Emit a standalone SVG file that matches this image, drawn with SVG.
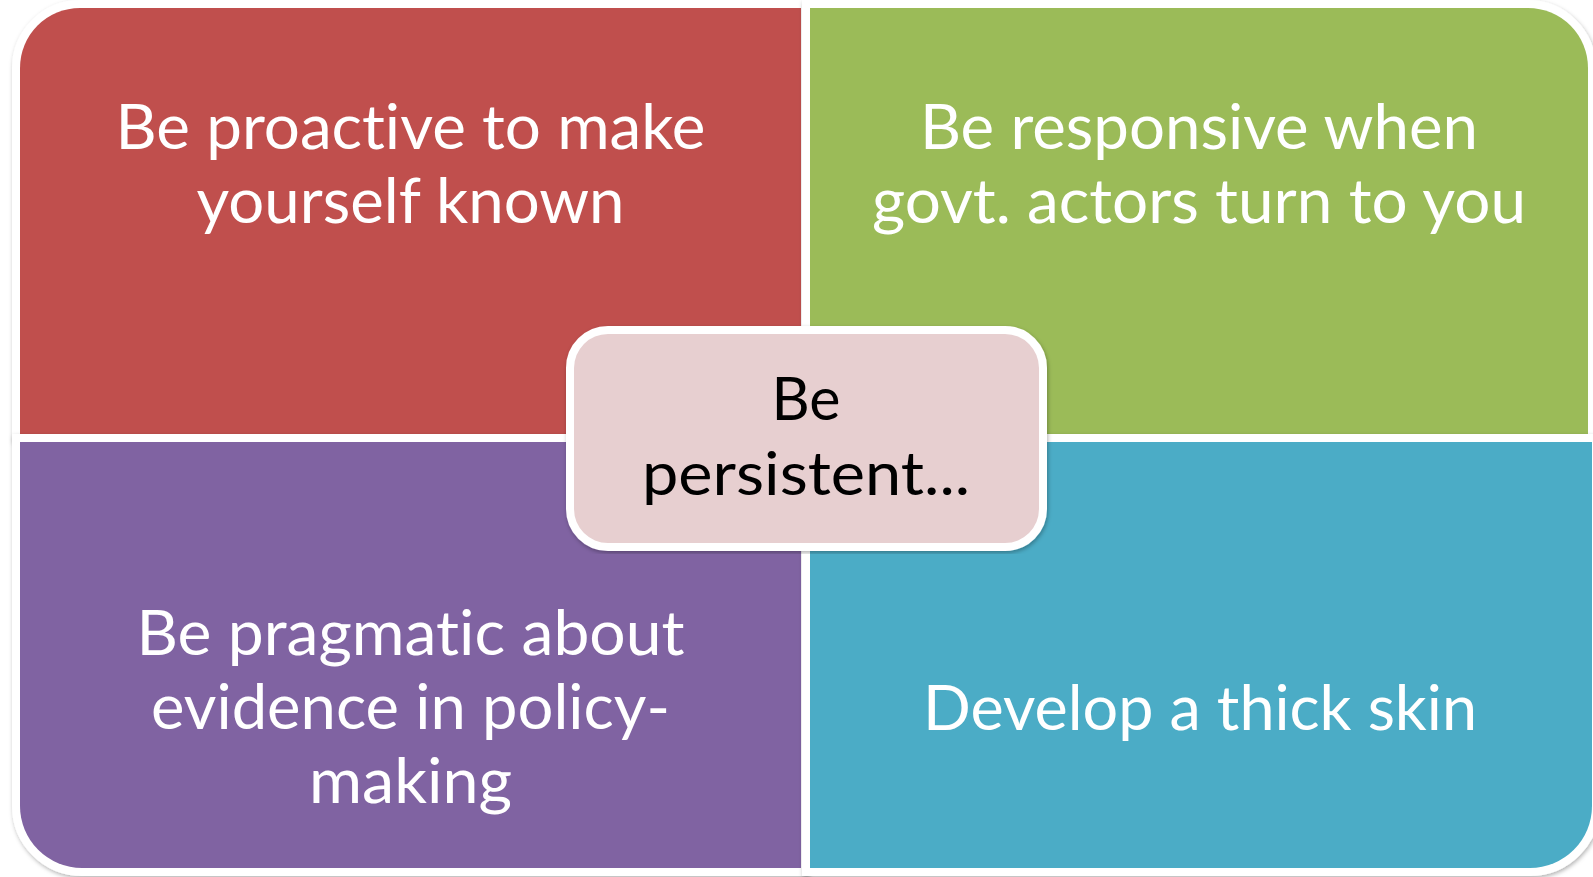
<svg xmlns="http://www.w3.org/2000/svg" width="1593" height="877" viewBox="0 0 1593 877">
<defs>
<filter id="sh" x="-5%" y="-5%" width="110%" height="110%">
<feDropShadow dx="1" dy="2" stdDeviation="2" flood-color="#000" flood-opacity="0.3"/>
</filter>
<style>
.q{stroke:#fff;stroke-width:16;paint-order:stroke;filter:url(#sh)}
.t{font-family:Lato,"Open Sans",sans-serif;font-size:61px;fill:#fff;text-anchor:middle;font-variant-ligatures:none;font-feature-settings:"liga" 0,"dlig" 0}
.c{font-family:Lato,"Open Sans",sans-serif;font-size:60.5px;fill:#000;text-anchor:middle;font-variant-ligatures:none;font-feature-settings:"liga" 0}
</style>
</defs>
<rect width="1593" height="877" fill="#fff"/>
<g id="q-proactive">
<path class="q" fill="#C0504D" d="M20,68 A60,60 0 0 1 80,8 H801 V434 H20 Z"/>
<text class="t" x="410.5" y="149" textLength="590" lengthAdjust="spacingAndGlyphs">Be proactive to make</text>
<text class="t" x="410.5" y="223" textLength="428" lengthAdjust="spacingAndGlyphs">yourself known</text>
</g>
<g id="q-responsive">
<path class="q" fill="#9BBB59" d="M810,8 H1528 A60,60 0 0 1 1588,68 V434 H810 Z"/>
<text class="t" x="1199" y="149" textLength="558" lengthAdjust="spacingAndGlyphs">Be responsive when</text>
<text class="t" x="1199" y="223" textLength="654" lengthAdjust="spacingAndGlyphs">govt. actors turn to you</text>
</g>
<g id="q-pragmatic">
<path class="q" fill="#8064A2" d="M20,442 H801 V868 H82 A62,62 0 0 1 20,806 Z"/>
<text class="t" x="410.5" y="655" textLength="548" lengthAdjust="spacingAndGlyphs">Be pragmatic about</text>
<text class="t" x="410.5" y="729" textLength="519" lengthAdjust="spacingAndGlyphs">evidence in policy-</text>
<text class="t" x="410.5" y="803" textLength="203" lengthAdjust="spacingAndGlyphs">making</text>
</g>
<g id="q-thickskin">
<path class="q" fill="#4BACC6" d="M810,442 H1592 V806 A62,62 0 0 1 1530,868 H810 Z"/>
<text class="t" x="1200" y="730" textLength="554" lengthAdjust="spacingAndGlyphs">Develop a thick skin</text>
</g>
<g id="connectors"></g>
<g id="center-persistent">
<rect class="q" x="574" y="334" width="465" height="209" rx="34" fill="#E7CFD0"/>
<text class="c" x="806" y="420" textLength="69" lengthAdjust="spacingAndGlyphs">Be</text>
<text class="c" x="806" y="495" textLength="328" lengthAdjust="spacingAndGlyphs">persistent...</text>
</g>
</svg>
